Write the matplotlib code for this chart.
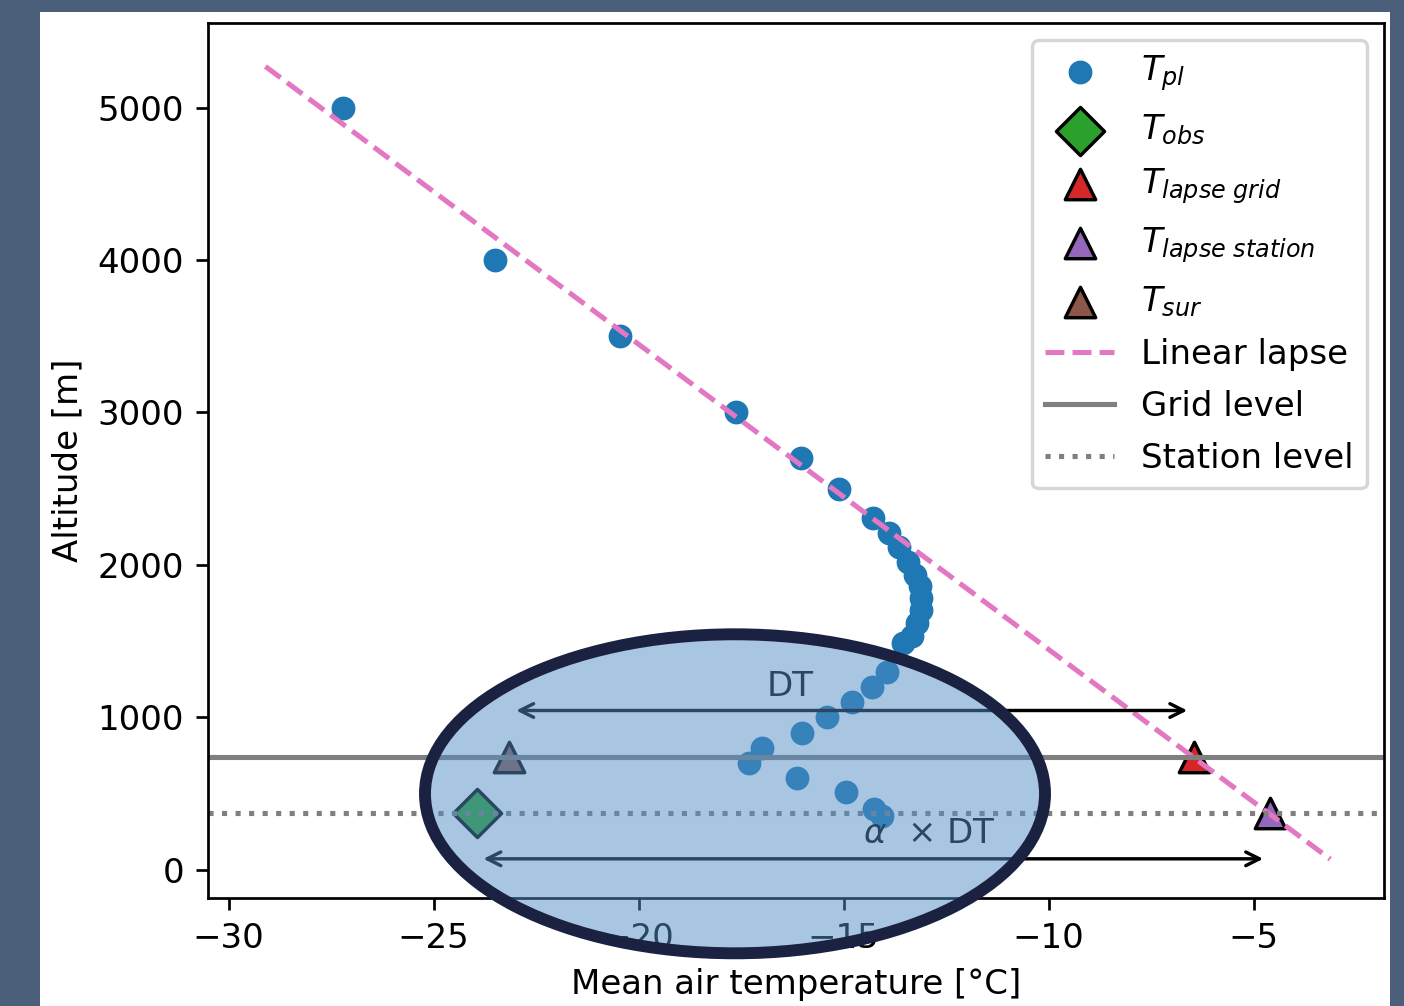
import matplotlib
matplotlib.use("Agg")
import matplotlib.pyplot as plt
from matplotlib.patches import Ellipse, Rectangle

# ---- data ----
T_pl = [-27.2, -23.5, -20.45, -17.62, -16.05, -15.1,
        -14.27, -13.9, -13.66, -13.42, -13.26, -13.14, -13.12, -13.12, -13.2, -13.34, -13.55,
        -13.94, -14.31, -14.8, -15.4, -16.02, -17.0, -17.3, -16.14, -14.94, -14.25, -14.07]
z_pl = [5000, 4000, 3500, 3000, 2700, 2500,
        2310, 2210, 2120, 2020, 1935, 1860, 1780, 1705, 1620, 1535, 1490,
        1300, 1200, 1100, 1000, 900, 800, 700, 600, 510, 400, 350]

grid_level = 740
station_level = 370
T_obs = -23.95
T_sur = -23.15
T_lapse_grid = -6.45
T_lapse_station = -4.6
lapse_T = [-29.1, -3.13]
lapse_z = [5270, 70]
DT_arrow_z = 1045
aDT_arrow_z = 72
DT_text = (-16.3, 1200)
aDT_text = (-12.9, 240)

# ---- figure ----
DPI = 245
fig = plt.figure(figsize=(1404 / DPI, 1006 / DPI), dpi=DPI)
fig.patch.set_facecolor('#4b5f7a')
fig.add_artist(Rectangle((40 / 1404, 0), (1390 - 40) / 1404, 1 - 12 / 1006,
                         transform=fig.transFigure, facecolor='white',
                         edgecolor='none', zorder=-1))

ax = fig.add_axes([208 / 1404, 1 - 898 / 1006, (1384 - 208) / 1404, (898 - 23) / 1006])
ax.set_facecolor('white')

h_pl = ax.scatter(T_pl, z_pl, color='tab:blue', s=36)
h_obs = ax.scatter([T_obs], [station_level], marker='D', s=100,
                   color='tab:green', edgecolor='black')
h_lg = ax.scatter([T_lapse_grid], [grid_level], marker='^', s=80,
                  color='tab:red', edgecolor='black')
h_ls = ax.scatter([T_lapse_station], [station_level], marker='^', s=80,
                  color='tab:purple', edgecolor='black')
h_sur = ax.scatter([T_sur], [grid_level], marker='^', s=80,
                   color='tab:brown', edgecolor='black')
h_lapse, = ax.plot(lapse_T, lapse_z, '--', color='tab:pink')
h_grid = ax.axhline(grid_level, color='tab:gray', ls='-')
h_stat = ax.axhline(station_level, color='tab:gray', ls=':')

ax.annotate('', xy=(T_lapse_grid, DT_arrow_z), xytext=(T_sur, DT_arrow_z),
            arrowprops=dict(arrowstyle='<->', color='black'))
ax.annotate('', xy=(T_lapse_station, aDT_arrow_z), xytext=(T_obs, aDT_arrow_z),
            arrowprops=dict(arrowstyle='<->', color='black'))
ax.text(DT_text[0], DT_text[1], 'DT', ha='center', va='center')
ax.text(aDT_text[0], aDT_text[1], r'$\alpha$  × DT', ha='center', va='center')

ax.set_xlim(-30.5, -1.82)
ax.set_ylim(-185, 5555)
ax.set_xticks([-30, -25, -20, -15, -10, -5])
ax.set_yticks([0, 1000, 2000, 3000, 4000, 5000])
ax.set_xlabel('Mean air temperature [°C]')
ax.set_ylabel('Altitude [m]')

ax.legend([h_pl, h_obs, h_lg, h_ls, h_sur, h_lapse, h_grid, h_stat],
          [r'$T_{pl}$', r'$T_{obs}$', r'$T_{lapse\ grid}$', r'$T_{lapse\ station}$',
           r'$T_{sur}$', 'Linear lapse', 'Grid level', 'Station level'],
          loc='upper right', labelspacing=0.56)

# highlight ellipse overlay
fig.add_artist(Ellipse((735 / 1404, 1 - 793.8 / 1006), 620 / 1404, 319 / 1006,
                       transform=fig.transFigure,
                       facecolor=(82 / 255, 142 / 255, 196 / 255, 0.5),
                       edgecolor='#1b2140', linewidth=3.5, zorder=10))

fig.savefig('out.png', dpi=DPI, facecolor=fig.get_facecolor())
